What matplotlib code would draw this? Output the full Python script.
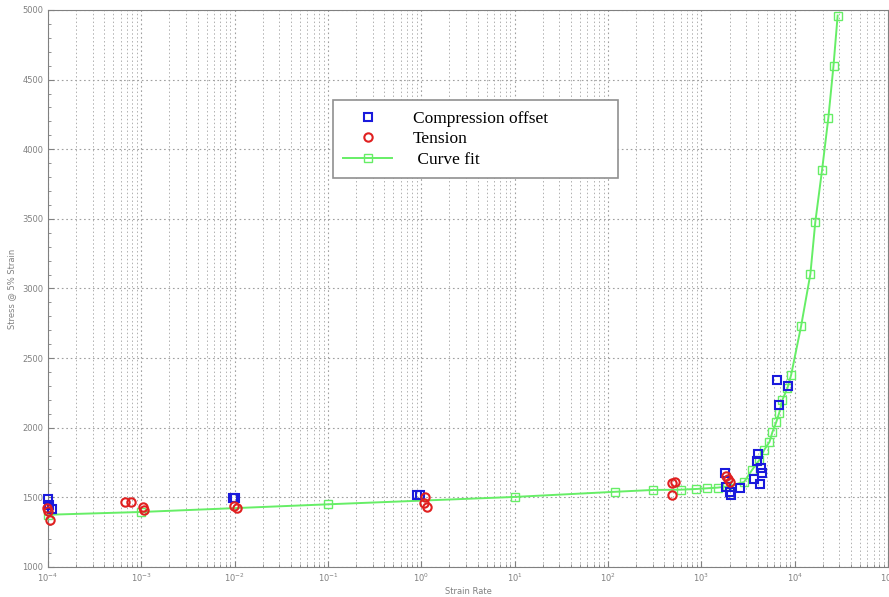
### Stress at 5% strain vs strain rate (compression / tension / curve fit)

import numpy as np
import matplotlib
matplotlib.use("Agg")
import matplotlib.pyplot as plt
from matplotlib.ticker import LogLocator, MultipleLocator, NullFormatter

# data
comp_rate = [1.0e-4, 1.02e-4, 1.1e-4, 0.95e-2, 1.0e-2, 0.90, 0.96,
             1.8e3, 1.85e3, 2.0e3, 2.1e3, 2.6e3, 3.65e3, 4.2e3, 4.0e3,
             3.9e3, 4.35e3, 4.5e3, 6.5e3, 8.5e3, 6.8e3]
comp_stress = [1485, 1445, 1415, 1492, 1492, 1517, 1517,
               1675, 1575, 1540, 1517, 1567, 1632, 1596, 1811,
               1760, 1711, 1675, 2343, 2300, 2163]

tens_rate = [1.0e-4, 1.05e-4, 0.98e-4, 6.75e-4, 7.8e-4, 1.03e-3, 1.08e-3,
             0.98e-2, 1.05e-2, 1.06, 1.1, 1.16, 480, 525, 480,
             1.85e3, 1.95e3, 2.0e3]
tens_stress = [1400, 1340, 1420, 1467, 1467, 1430, 1410,
               1440, 1420, 1460, 1503, 1430, 1603, 1610, 1517,
               1655, 1630, 1610]

fit_rate = [1e-4, 1e-3, 1e-1, 1e1, 1.2e2, 3e2, 6e2, 8.7e2, 1.15e3, 1.5e3,
            1.9e3, 2.86e3, 3.49e3, 4.17e3, 4.7e3, 5.36e3, 5.77e3, 6.33e3,
            6.8e3, 7.37e3, 8.35e3, 9.15e3, 1.17e4, 1.47e4, 1.66e4, 1.96e4,
            2.29e4, 2.6e4, 2.88e4]
fit_stress = [1375, 1395, 1450, 1503, 1540, 1553, 1555, 1560, 1565, 1570,
              1578, 1610, 1697, 1768, 1840, 1898, 1970, 2040,
              2105, 2200, 2285, 2380, 2731, 3104, 3478, 3850,
              4225, 4600, 4960]

gray = '#808080'

fig = plt.figure(figsize=(8.89, 5.97), dpi=100)
ax = fig.add_axes([0.054, 0.0503, 0.945, 0.933])

ax.plot(fit_rate, fit_stress, color='#66ee66', lw=1.4, marker='s', ms=6,
        mfc='none', mec='#66ee66', mew=1.0, label=' Curve fit', zorder=3,
        clip_on=False)
ax.plot(comp_rate, comp_stress, ls='none', marker='s', ms=6, mfc='none',
        mec='#1a1adc', mew=1.5, label='Compression offset', zorder=4,
        clip_on=False)
ax.plot(tens_rate, tens_stress, ls='none', marker='o', ms=6, mfc='none',
        mec='#e02020', mew=1.5, label='Tension', zorder=4, clip_on=False)

ax.set_xscale('log')
ax.set_xlim(1e-4, 1e5)
ax.set_ylim(1000, 5000)
ax.xaxis.set_major_locator(LogLocator(base=10, numticks=20))
ax.xaxis.set_minor_locator(LogLocator(base=10, subs=np.arange(2, 10), numticks=20))
ax.xaxis.set_minor_formatter(NullFormatter())
ax.yaxis.set_major_locator(MultipleLocator(500))
ax.yaxis.set_minor_locator(MultipleLocator(100))

ax.grid(True, which='major', ls=(0, (1.5, 2.5)), color='#a0a0a0', lw=0.8)
ax.grid(True, which='minor', axis='x', ls=(0, (1.5, 2.5)), color='#b0b0b0', lw=0.7)

ax.tick_params(which='both', direction='in', colors=gray, labelsize=6,
               labelcolor=gray, top=False, right=False)
ax.tick_params(which='major', length=4)
ax.tick_params(which='minor', length=2)
for s in ax.spines.values():
    s.set_color(gray)
    s.set_linewidth(0.8)

ax.set_xlabel('Strain Rate', fontsize=6, color=gray, labelpad=2)
ax.set_ylabel('Stress @ 5% Strain', fontsize=6, color=gray, labelpad=4)

# legend order as in the picture
h, l = ax.get_legend_handles_labels()
order = [1, 2, 0]
leg = ax.legend([h[i] for i in order], [l[i] for i in order],
                loc='upper left', bbox_to_anchor=(0.339, 0.838, 0.339, 0.0),
                mode='expand', borderaxespad=0, fancybox=False,
                edgecolor='#909090', framealpha=1,
                prop={'family': 'Liberation Serif', 'size': 12.5},
                handlelength=2.8, handletextpad=1.2, borderpad=0.6,
                labelspacing=0.25)
leg.get_frame().set_linewidth(1.2)

fig.savefig('out.png', dpi=100)
